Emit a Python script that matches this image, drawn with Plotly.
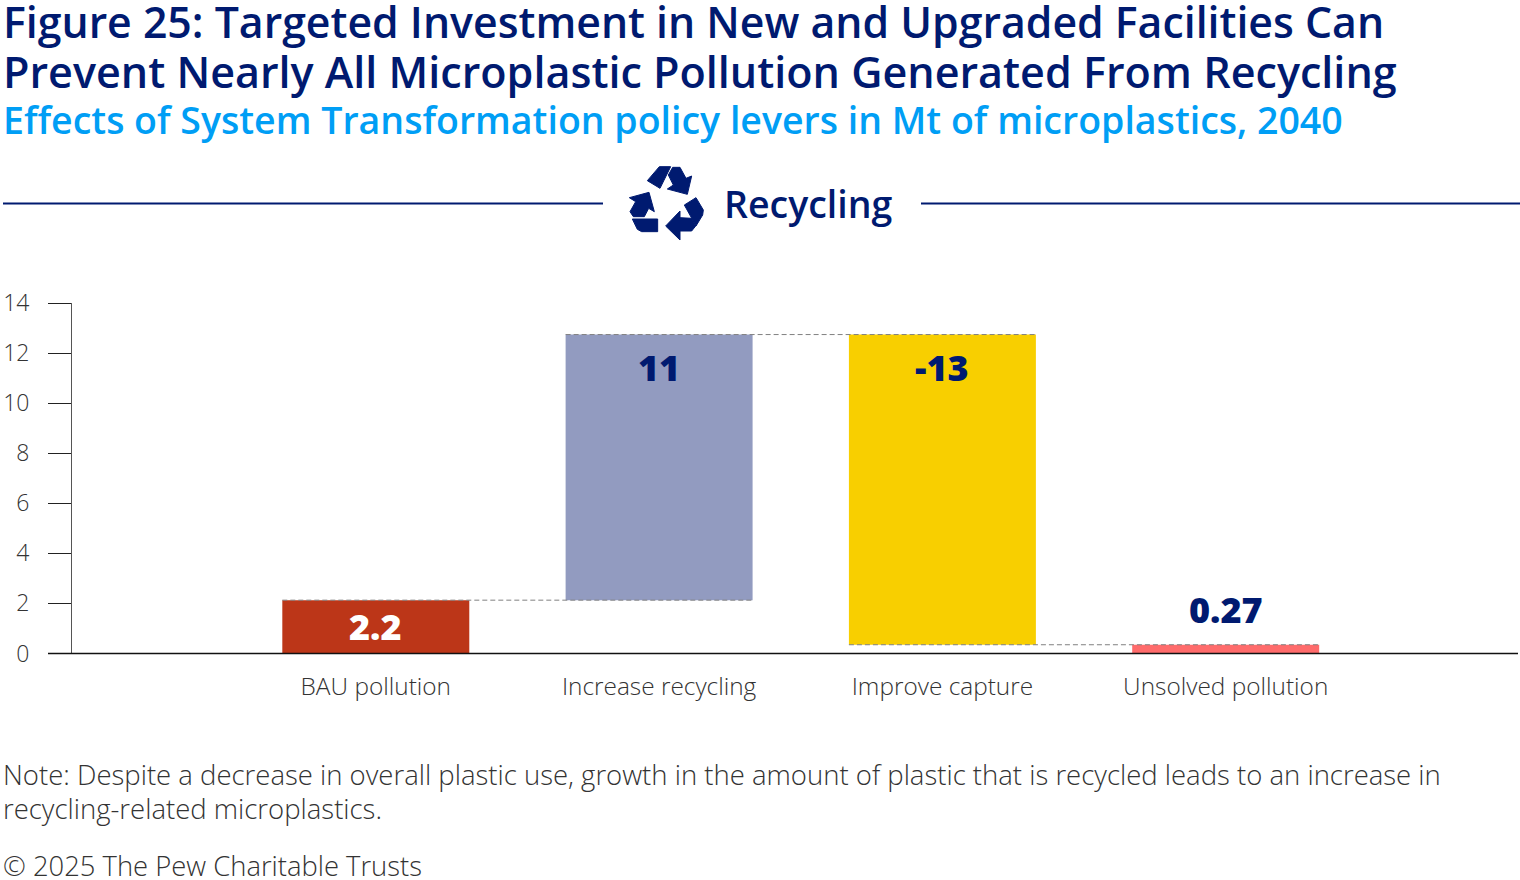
import plotly.graph_objects as go

categories = ["BAU pollution", "Increase recycling", "Improve capture", "Unsolved pollution"]
bar_bases = [0, 2.13, 0.35, 0]
bar_tops = [2.13, 12.74, 12.74, 0.35]
value_labels = ["2.2", "11", "-13", "0.27"]
y_ticks = [0, 2, 4, 6, 8, 10, 12, 14]

W, H = 1520, 880
NAVY = "#001A70"
BLUE = "#009EF5"
GREY = "#333333"
FONT = "Open Sans"
bar_colors = ["#BC3618", "#929BC0", "#F8CF00", "#FF6B6B"]
label_colors = ["#FFFFFF", NAVY, NAVY, NAVY]
label_shift = [-26, -33, -33, 35]
BAR_W = 0.66

def px(x): return x / W
def py(y): return 1 - y / H

fig = go.Figure()
fig.add_bar(
    x=list(range(4)),
    y=[t - b for t, b in zip(bar_tops, bar_bases)],
    base=bar_bases,
    width=BAR_W,
    marker=dict(color=bar_colors, line_width=0),
    showlegend=False,
)
for i in range(3):
    lvl = bar_tops[i] if i < 2 else bar_bases[i]
    fig.add_scatter(
        x=[i - BAR_W / 2, i + 1 + BAR_W / 2], y=[lvl, lvl], mode="lines",
        line=dict(color="#808080", width=1, dash="5px,3px"), showlegend=False, hoverinfo="skip",
    )

ann = []
for i, lab in enumerate(value_labels):
    ann.append(dict(x=i, y=bar_tops[i], xref="x", yref="y", text=lab, showarrow=False,
                    yshift=label_shift[i], font=dict(family=FONT, size=36, weight=800, color=label_colors[i]),
                    xanchor="center", yanchor="middle"))

def text(x, y, s, size, color, weight=None):
    f = dict(family=FONT, size=size, color=color)
    if weight: f["weight"] = weight
    ann.append(dict(x=px(x), y=py(y), xref="paper", yref="paper", text=s, showarrow=False,
                    font=f, xanchor="left", yanchor="middle", align="left"))

text(1, 21, "Figure 25: Targeted Investment in New and Upgraded Facilities Can", 42.8, NAVY, 600)
text(1, 71, "Prevent Nearly All Microplastic Pollution Generated From Recycling", 43.1, NAVY, 600)
text(1, 119, "Effects of System Transformation policy levers in Mt of microplastics, 2040", 37.5, BLUE, 600)
text(722, 203, "Recycling", 37.5, NAVY, 600)
text(1, 774, "Note: Despite a decrease in overall plastic use, growth in the amount of plastic that is recycled leads to an increase in", 27.5, GREY, 300)
text(1, 808, "recycling-related microplastics.", 27.5, GREY, 300)
text(1, 865, "© 2025 The Pew Charitable Trusts", 27.4, GREY, 300)

shapes = [
    dict(type="line", xref="paper", yref="paper", x0=px(3), x1=px(603), y0=py(203.5), y1=py(203.5), line=dict(color=NAVY, width=2)),
    dict(type="line", xref="paper", yref="paper", x0=px(921), x1=px(1520), y0=py(203.5), y1=py(203.5), line=dict(color=NAVY, width=2)),
    dict(type="line", xref="paper", yref="paper", x0=px(48), x1=px(1518), y0=py(653.5), y1=py(653.5), line=dict(color="#111111", width=1.5)),
]
icon = [
    [(178,50),(212,50),(180,115),(142,92)],
    [(218,52),(240,52),(258,85),(275,78),(262,133),(202,117),(220,105),(205,75)],
    [(88,143),(147,127),(163,185),(146,175),(133,200),(100,200),(90,185),(107,155)],
    [(97,207),(173,207),(173,245),(125,245),(112,238)],
    [(288,143),(310,180),(308,195),(288,228),(253,165)],
    [(197,228),(240,183),(240,203),(275,205),(287,228),(275,243),(240,243),(240,270)],
]
for poly in icon:
    pts = [(px(600 + a / 3), py(150 + b / 3)) for a, b in poly]
    path = "M " + " L ".join(f"{a},{b}" for a, b in pts) + " Z"
    shapes.append(dict(type="path", xref="paper", yref="paper", path=path, fillcolor=NAVY,
                       line=dict(color=NAVY, width=1)))

step = 283.3
fig.update_layout(
    width=W, height=H, margin=dict(l=0, r=0, t=0, b=0),
    paper_bgcolor="white", plot_bgcolor="white", showlegend=False,
    font=dict(family=FONT, color=GREY),
    annotations=ann, shapes=shapes,
    xaxis=dict(
        automargin=False,
        domain=[px(72), px(1518)], range=[(72 - 375.8) / step, (1518 - 375.8) / step],
        tickmode="array", tickvals=list(range(4)), ticktext=categories,
        tickfont=dict(family=FONT, size=24.4, color=GREY, weight=300),
        ticks="", ticklabelstandoff=16, showgrid=False, zeroline=False,
        showline=False,
    ),
    yaxis=dict(
        automargin=False,
        domain=[py(653.5), py(303)], range=[0, 14],
        tickmode="array", tickvals=y_ticks,
        tickfont=dict(family=FONT, size=23, color=GREY, weight=300),
        ticks="outside", ticklen=23, tickwidth=1, tickcolor="#222222", ticklabelstandoff=14,
        showgrid=False, zeroline=False, showline=True, linecolor="#555555", linewidth=1,
    ),
)
fig.write_html("out.html", config={"displayModeBar": False},
               post_script="document.body.style.margin='0';document.body.style.overflow='hidden';")
